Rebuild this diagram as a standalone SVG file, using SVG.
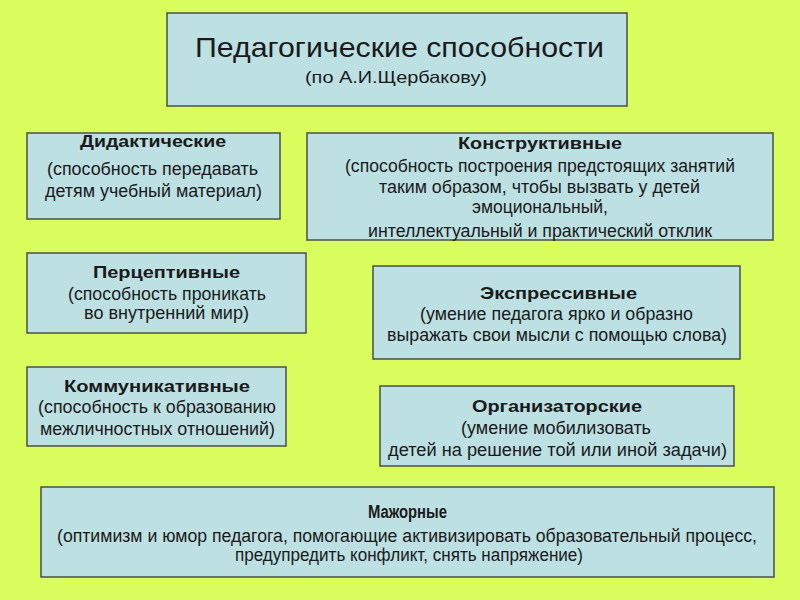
<svg xmlns="http://www.w3.org/2000/svg" width="800" height="600" viewBox="0 0 800 600">
<style>
.bx{fill:#bde0e3;stroke:#4a4f4a;stroke-width:1.5}
text{font-family:"Liberation Sans",Arial,sans-serif;fill:#1a1a1a;text-anchor:middle}
.h{font-weight:bold;font-size:17px}
.t{font-size:17.5px}
.m{font-size:18px}
</style>
<rect width="800" height="600" fill="#d8fd5c"/>
<g id="title">
<rect class="bx" x="167" y="13" width="460" height="93"/>
<text x="399.5" y="57" style="font-size:28px" textLength="409" lengthAdjust="spacingAndGlyphs">Педагогические способности</text>
<text x="396" y="83" style="font-size:16.5px" textLength="182" lengthAdjust="spacingAndGlyphs">(по А.И.Щербакову)</text>
</g>
<g id="didactic">
<rect class="bx" x="27" y="133" width="253" height="86"/>
<text class="h" x="153" y="147" textLength="146" lengthAdjust="spacingAndGlyphs">Дидактические</text>
<text class="t" x="152.5" y="175" textLength="211" lengthAdjust="spacingAndGlyphs">(способность передавать</text>
<text class="t" x="153.5" y="197" textLength="217" lengthAdjust="spacingAndGlyphs">детям учебный материал)</text>
</g>
<g id="constructive">
<rect class="bx" x="307" y="133" width="466" height="107"/>
<text class="h" x="540" y="149" textLength="164" lengthAdjust="spacingAndGlyphs">Конструктивные</text>
<text class="t" x="540" y="172" textLength="390" lengthAdjust="spacingAndGlyphs">(способность построения предстоящих занятий</text>
<text class="t" x="539.5" y="193" textLength="321" lengthAdjust="spacingAndGlyphs">таким образом, чтобы вызвать у детей</text>
<text class="t" x="540" y="213" textLength="136" lengthAdjust="spacingAndGlyphs">эмоциональный,</text>
<text class="t" x="540" y="237" textLength="344" lengthAdjust="spacingAndGlyphs">интеллектуальный и практический отклик</text>
</g>
<g id="perceptive">
<rect class="bx" x="27" y="253" width="279" height="80"/>
<text class="h" x="166.5" y="278" textLength="147" lengthAdjust="spacingAndGlyphs">Перцептивные</text>
<text class="t" x="167" y="300" textLength="198" lengthAdjust="spacingAndGlyphs">(способность проникать</text>
<text class="t" x="166.5" y="319" textLength="165" lengthAdjust="spacingAndGlyphs">во внутренний мир)</text>
</g>
<g id="expressive">
<rect class="bx" x="373" y="266" width="367" height="93"/>
<text class="h" x="558.5" y="299" textLength="157" lengthAdjust="spacingAndGlyphs">Экспрессивные</text>
<text class="t" x="556.5" y="320" textLength="273" lengthAdjust="spacingAndGlyphs">(умение педагога ярко и образно</text>
<text class="t" x="557" y="341" textLength="340" lengthAdjust="spacingAndGlyphs">выражать свои мысли с помощью слова)</text>
</g>
<g id="communicative">
<rect class="bx" x="27" y="367" width="259" height="79"/>
<text class="h" x="157" y="392" textLength="186" lengthAdjust="spacingAndGlyphs">Коммуникативные</text>
<text class="t" x="157" y="413" textLength="238" lengthAdjust="spacingAndGlyphs">(способность к образованию</text>
<text class="t" x="157.5" y="435" textLength="235" lengthAdjust="spacingAndGlyphs">межличностных отношений)</text>
</g>
<g id="organizational">
<rect class="bx" x="380" y="386" width="354" height="80"/>
<text class="h" x="557" y="412" textLength="170" lengthAdjust="spacingAndGlyphs">Организаторские</text>
<text class="t" x="556" y="434" textLength="190" lengthAdjust="spacingAndGlyphs">(умение мобилизовать</text>
<text class="t" x="557.5" y="456" textLength="339" lengthAdjust="spacingAndGlyphs">детей на решение той или иной задачи)</text>
</g>
<g id="major">
<rect class="bx" x="41" y="487" width="733" height="90"/>
<text x="407.5" y="518" style="font-weight:bold;font-size:17.5px" textLength="79" lengthAdjust="spacingAndGlyphs">Мажорные</text>
<text class="m" x="407" y="542" textLength="700" lengthAdjust="spacingAndGlyphs">(оптимизм и юмор педагога, помогающие активизировать образовательный процесс,</text>
<text class="m" x="409" y="561" textLength="348" lengthAdjust="spacingAndGlyphs">предупредить конфликт, снять напряжение)</text>
</g>
<g id="connectors"></g>
</svg>
